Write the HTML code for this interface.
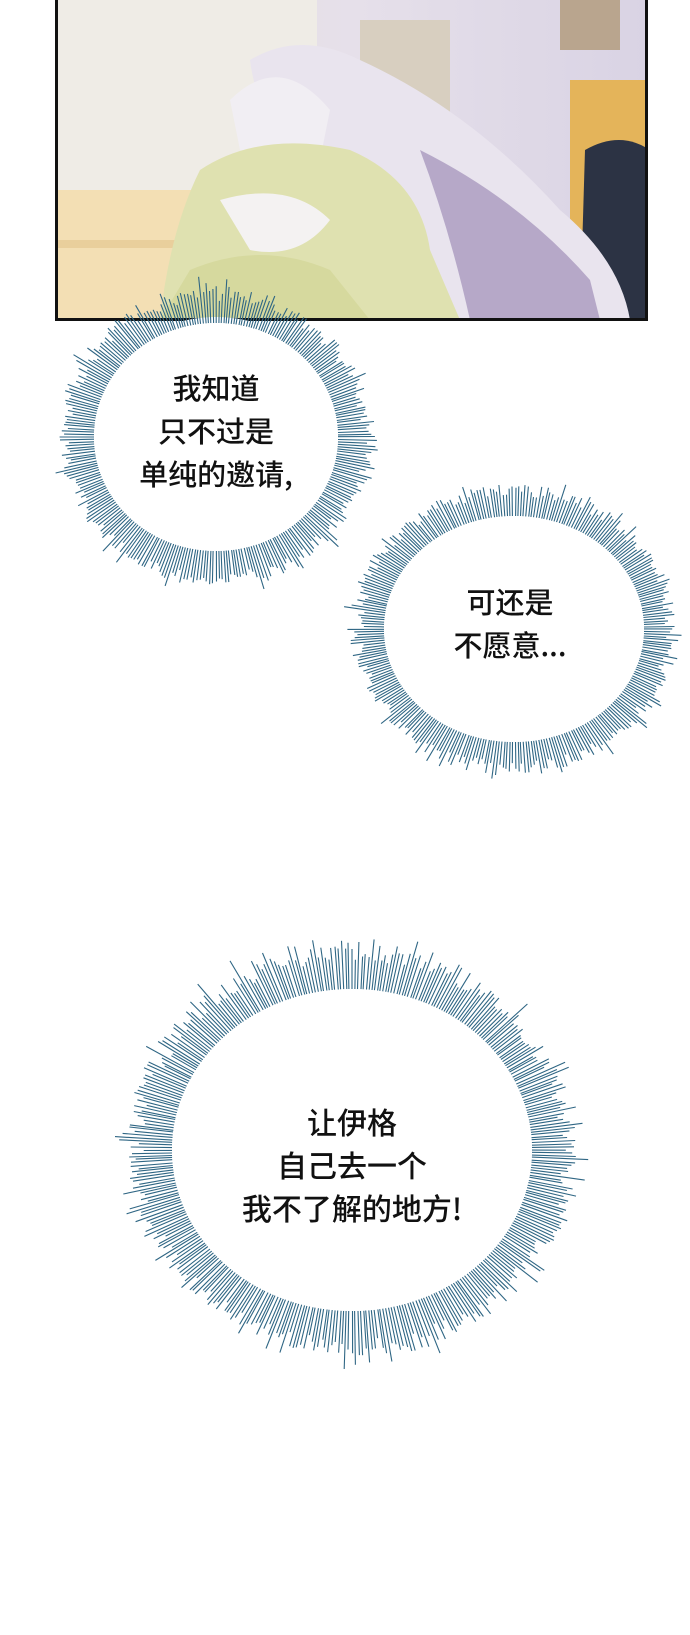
<!DOCTYPE html>
<html><head><meta charset="utf-8">
<style>
html,body{margin:0;padding:0;background:#fff;}
body{width:690px;height:1635px;position:relative;overflow:hidden;font-family:"Liberation Sans","Noto Sans CJK SC",sans-serif;}
svg{position:absolute;left:0;top:0;}
.t{position:absolute;text-align:center;color:#111;font-size:29px;line-height:43px;white-space:nowrap;font-weight:500;font-family:"Noto Sans CJK SC","Liberation Sans",sans-serif;}
</style></head>
<body>
<svg id="s" width="690" height="1635" viewBox="0 0 690 1635">
<defs>
<linearGradient id="bg" x1="0" y1="0" x2="1" y2="0">
<stop offset="0" stop-color="#eae4dc"/><stop offset="0.5" stop-color="#e6e0ea"/><stop offset="1" stop-color="#d9d3e4"/>
</linearGradient>
<clipPath id="pc"><rect x="57" y="0" width="590" height="320"/></clipPath>
</defs>
<g clip-path="url(#pc)">
<rect x="57" y="0" width="590" height="320" fill="url(#bg)"/>
<rect x="57" y="0" width="260" height="240" fill="#efece6"/>
<rect x="57" y="190" width="200" height="130" fill="#f3dfb4"/>
<rect x="57" y="240" width="200" height="8" fill="#e9cf9c"/>
<rect x="360" y="20" width="90" height="110" fill="#d8cfc0"/>
<rect x="560" y="0" width="60" height="50" fill="#b9a58e"/>
<rect x="570" y="80" width="80" height="240" fill="#e4b45a"/>
<path d="M585 150 Q620 130 650 150 L650 320 L580 320 Z" fill="#2c3344"/>
<path d="M250 60 Q300 30 360 60 Q470 110 560 210 Q620 260 630 320 L440 320 Q400 220 330 170 Q260 140 250 60 Z" fill="#e9e4ee"/>
<path d="M420 150 Q520 200 590 280 L600 320 L470 320 Q450 230 420 150 Z" fill="#b6a8c8"/>
<path d="M230 100 Q280 50 330 110 L320 160 L240 150 Z" fill="#f1eef3"/>
<path d="M200 170 Q260 130 350 150 Q420 180 430 250 L460 320 L160 320 Q170 230 200 170 Z" fill="#dfe1b0"/>
<path d="M220 200 Q290 180 330 220 Q300 260 250 250 Z" fill="#f4f2f2"/>
<path d="M190 270 Q260 240 330 270 L370 320 L160 320 Z" fill="#d6d99e"/>
</g>
<rect x="56.5" y="-3" width="590" height="322.5" fill="none" stroke="#111" stroke-width="3"/>
<g id="sp"></g>
</svg>
<div class="t" style="left:116px;top:366px;width:200px;">我知道<br>只不过是<br>单纯的邀请,</div>
<div class="t" style="left:410px;top:580px;width:200px;">可还是<br>不愿意...</div>
<div class="t" style="left:202px;top:1100px;width:300px;font-size:30px;">让伊格<br>自己去一个<br>我不了解的地方!</div>
<script>
(function(){
var g=document.getElementById('sp');var ns='http://www.w3.org/2000/svg';
var seed=7;function r(){seed=(seed*16807)%2147483647;return seed/2147483647;}
function bubble(cx,cy,rx,ry,ext,n){
 var e=document.createElementNS(ns,'ellipse');
 e.setAttribute('cx',cx);e.setAttribute('cy',cy);e.setAttribute('rx',rx+6);e.setAttribute('ry',ry+6);e.setAttribute('fill','#fff');
 g.appendChild(e);
 var d='';
 for(var i=0;i<n;i++){
  var a=i/n*Math.PI*2+(r()-0.5)*0.006;
  var c=Math.cos(a),s=Math.sin(a);
  var x0=cx+c*(rx),y0=cy+s*(ry);
  var L=ext*(0.5+0.3*r()+(r()<0.35?0.3*r():0));
  var x1=cx+c*(rx+L),y1=cy+s*(ry+L);
  d+='M'+x0.toFixed(1)+' '+y0.toFixed(1)+'L'+x1.toFixed(1)+' '+y1.toFixed(1);
 }
 var p=document.createElementNS(ns,'path');
 p.setAttribute('d',d);p.setAttribute('stroke','#2f6684');p.setAttribute('stroke-width','1.1');p.setAttribute('fill','none');
 g.appendChild(p);
 var e2=document.createElementNS(ns,'ellipse');
 e2.setAttribute('cx',cx);e2.setAttribute('cy',cy);e2.setAttribute('rx',rx);e2.setAttribute('ry',ry);e2.setAttribute('fill','#fff');
 g.appendChild(e2);
}
bubble(216,437,122,114,44,300);
bubble(514,629,130,113,40,310);
bubble(352,1150,180,161,56,400);
})();
</script>
</body></html>
